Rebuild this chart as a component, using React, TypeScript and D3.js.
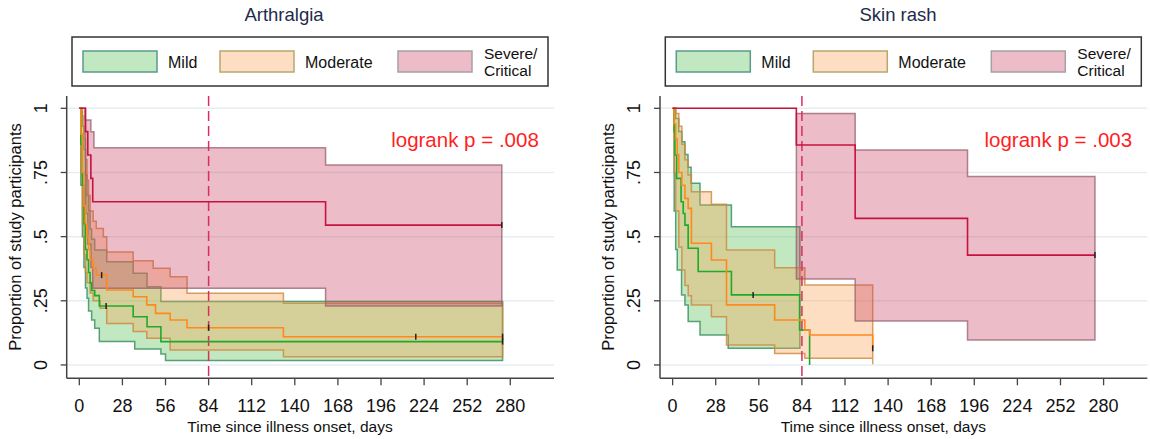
import React from 'react';
import * as d3 from 'd3';

type Pt = [number, number];

// ---- Arthralgia (left panel): [days, proportion] steps ----
const arthMildKm: Pt[] = [[0, 1], [1, 0.86], [2, 0.7], [3, 0.55], [4, 0.45], [5, 0.41], [6, 0.36], [7, 0.32], [8, 0.29], [10, 0.27], [13, 0.23], [35, 0.188], [44, 0.149], [53, 0.091], [275, 0.091]];
const arthMildHi: Pt[] = [[0, 1], [1, 0.99], [2, 0.93], [3, 0.84], [4, 0.74], [5, 0.66], [6, 0.6], [7, 0.53], [8, 0.49], [10, 0.448], [17.8, 0.402], [35, 0.357], [44, 0.305], [53, 0.247], [275, 0.247]];
const arthMildLo: Pt[] = [[0, 1], [1, 0.7], [2, 0.5], [3, 0.38], [4, 0.3], [5, 0.26], [6, 0.21], [8, 0.175], [10, 0.143], [13, 0.091], [36, 0.062], [53, 0.043], [56, 0.017], [275, 0.017]];

const arthModKm: Pt[] = [[0, 1], [1, 0.9], [2, 0.75], [3, 0.62], [4, 0.55], [5, 0.5], [6, 0.45], [7, 0.41], [9, 0.377], [11, 0.35], [17.8, 0.292], [35, 0.266], [43.8, 0.234], [49.5, 0.201], [59, 0.175], [70, 0.145], [132.6, 0.11], [275, 0.11]];
const arthModHi: Pt[] = [[0, 1], [2, 0.97], [3, 0.88], [4, 0.8], [5, 0.72], [6, 0.66], [7, 0.6], [9, 0.56], [11, 0.532], [15.6, 0.5], [17.8, 0.44], [35, 0.406], [48, 0.377], [59, 0.344], [70, 0.279], [132.6, 0.24], [275, 0.24]];
const arthModLo: Pt[] = [[0, 1], [1, 0.75], [2, 0.55], [3, 0.43], [4, 0.36], [5, 0.32], [7, 0.28], [9, 0.25], [13.5, 0.221], [17.8, 0.162], [35, 0.13], [43.8, 0.104], [59, 0.058], [132.6, 0.032], [275, 0.032]];

const arthSevKm: Pt[] = [[0, 1], [4, 0.909], [5.5, 0.818], [7.5, 0.727], [8.7, 0.636], [160, 0.545], [274.5, 0.545]];
const arthSevHi: Pt[] = [[0, 1], [3.7, 0.954], [7.5, 0.909], [9.5, 0.846], [160, 0.779], [274.5, 0.779]];
const arthSevLo: Pt[] = [[0, 1], [4, 0.59], [5.5, 0.47], [7.5, 0.38], [8.7, 0.299], [160, 0.23], [274.5, 0.23]];

const arthCensored: Pt[][] = [
  [[17.4, 0.23], [275, 0.091]],
  [[14.5, 0.35], [84, 0.145], [218.6, 0.11], [275, 0.11]],
  [[274.5, 0.545]],
];

// ---- Skin rash (right panel) ----
const rashMildKm: Pt[] = [[0, 1], [1, 0.909], [1.5, 0.818], [2.6, 0.727], [5.5, 0.636], [6.9, 0.59], [8, 0.545], [10.1, 0.455], [16.6, 0.364], [38.2, 0.273], [82.5, 0.136], [89, 0], [89, 0]];
const rashMildHi: Pt[] = [[0, 1], [2, 0.96], [4, 0.91], [6, 0.87], [8, 0.82], [10, 0.77], [12, 0.708], [17.8, 0.623], [38.2, 0.539], [82.7, 0.539]];
const rashMildLo: Pt[] = [[0, 1], [1, 0.6], [2, 0.45], [3, 0.37], [5.8, 0.273], [8, 0.234], [10.1, 0.169], [17.8, 0.117], [36.1, 0.065], [82.7, 0.065]];

const rashModKm: Pt[] = [[0, 1], [1, 0.94], [2, 0.88], [3, 0.82], [4, 0.75], [6, 0.7], [8, 0.649], [10.1, 0.61], [12.2, 0.474], [25.2, 0.409], [35, 0.234], [66.3, 0.175], [85.9, 0.136], [89.1, 0.117], [130, 0.065], [130, 0.065]];
const rashModHi: Pt[] = [[0, 1], [2, 0.98], [4, 0.93], [6, 0.86], [8, 0.8], [10, 0.74], [12.2, 0.675], [25.2, 0.626], [35, 0.448], [66.3, 0.379], [85.9, 0.312], [130, 0.234]];
const rashModLo: Pt[] = [[0, 1], [1, 0.75], [2, 0.6], [4, 0.46], [6, 0.37], [8, 0.31], [10.1, 0.27], [12.2, 0.234], [25.2, 0.188], [35, 0.078], [66.3, 0.045], [85.9, 0.026], [130, 0.003]];

const rashSevKm: Pt[] = [[0, 1], [80.4, 0.857], [118.6, 0.571], [191.6, 0.428], [274.4, 0.428]];
const rashSevHi: Pt[] = [[80.4, 0.98], [118.6, 0.838], [191.6, 0.734], [274.4, 0.734]];
const rashSevLo: Pt[] = [[80.4, 0.335], [118.6, 0.171], [191.6, 0.097], [274.4, 0.097]];

const rashCensored: Pt[][] = [
  [[52.3, 0.273]],
  [[130, 0.065]],
  [[274.4, 0.428]],
];

const xTicks = [0, 28, 56, 84, 112, 140, 168, 196, 224, 252, 280];
const yTicks = [0, 0.25, 0.5, 0.75, 1];
const yTickLabels = ['0', '.25', '.5', '.75', '1'];
const legendLabels = ['Mild', 'Moderate', 'Severe/\nCritical'];
const landmarkDay = 84;

const FONT = '"Liberation Sans", Arial, Helvetica, sans-serif';

const styles = [
  { line: '#1faa2a', fill: 'rgb(80,190,80)', edge: 'rgba(50,140,90,0.8)', legendEdge: '#5a9a88' },
  { line: '#ff8a1c', fill: 'rgb(250,160,80)', edge: 'rgba(205,135,60,0.8)', legendEdge: '#b8a86c' },
  { line: '#c8123e', fill: 'rgb(200,64,98)', edge: 'rgba(150,95,110,0.75)', legendEdge: '#a8a0a6' },
];

const valueAt = (pts: Pt[], t: number) => {
  let v = pts[0][1];
  for (const p of pts) if (p[0] <= t) v = p[1];
  return v;
};

const mergeBand = (hi: Pt[], lo: Pt[]) => {
  const times = Array.from(new Set([...hi.map((p) => p[0]), ...lo.map((p) => p[0])])).sort((a, b) => a - b);
  return times.map((t) => ({ t, hi: valueAt(hi, t), lo: valueAt(lo, t) }));
};

interface PanelProps {
  dx: number;
  title: string;
  titleX: number;
  pvalue: string;
  km: Pt[][];
  hi: Pt[][];
  lo: Pt[][];
  censored: Pt[][];
}

const Panel: React.FC<PanelProps> = ({ dx, title, titleX, pvalue, km, hi, lo, censored }) => {
  const x = d3.scaleLinear().domain([-8.2, 308.4]).range([66.7 + dx, 554 + dx]);
  const y = d3.scaleLinear().domain([-0.052, 1.048]).range([378.3, 96]);

  const line = d3.line<Pt>().x((d) => x(d[0])).y((d) => y(d[1])).curve(d3.curveStepAfter);
  const area = d3
    .area<{ t: number; hi: number; lo: number }>()
    .x((d) => x(d.t))
    .y0((d) => y(d.lo))
    .y1((d) => y(d.hi))
    .curve(d3.curveStepAfter);

  const [x0, x1] = x.range();
  const [yb, yt] = y.range();

  return (
    <g fontFamily={FONT}>
      <text x={titleX} y={21} textAnchor="middle" fontSize={18.5} fill="#1e2b4c">{title}</text>

      {/* legend */}
      <rect x={72 + dx} y={37} width={476} height={49} fill="#fff" stroke="#333" strokeWidth={1.5} />
      {legendLabels.map((lab, i) => {
        const sx = [83, 220, 398][i] + dx;
        const lines = lab.split('\n');
        return (
          <g key={lab}>
            <rect x={sx} y={51} width={74} height={21} fill={styles[i].fill} fillOpacity={0.35} stroke={styles[i].legendEdge} strokeWidth={1.5} />
            {lines.length === 1 ? (
              <text x={sx + 85} y={68} fontSize={16} fill="#111">{lab}</text>
            ) : (
              lines.map((l, j) => (
                <text key={l} x={sx + 86} y={59 + j * 17} fontSize={15.5} fill="#111">{l}</text>
              ))
            )}
          </g>
        );
      })}

      {/* grid */}
      {yTicks.map((v) => (
        <line key={v} x1={x0} x2={x1} y1={y(v)} y2={y(v)} stroke="#e6eef2" strokeWidth={1.5} />
      ))}

      {/* CI bands */}
      {hi.map((h, i) => (
        <path key={'b' + i} d={area(mergeBand(h, lo[i])) || ''} fill={styles[i].fill} fillOpacity={0.35} stroke={styles[i].edge} strokeWidth={1.5} />
      ))}

      {/* landmark */}
      <line x1={x(landmarkDay)} x2={x(landmarkDay)} y1={yt} y2={yb} stroke="#d92e5e" strokeWidth={1.5} strokeDasharray="10,5" />

      {/* KM curves */}
      {km.map((k, i) => (
        <path key={'k' + i} d={line(k) || ''} fill="none" stroke={styles[i].line} strokeWidth={1.6} />
      ))}

      {censored.map((c, i) =>
        c.map((p, j) => (
          <line key={`c${i}-${j}`} x1={x(p[0])} x2={x(p[0])} y1={y(p[1]) - 3} y2={y(p[1]) + 3} stroke="#222" strokeWidth={1.5} />
        ))
      )}

      <text x={465 + dx} y={147} textAnchor="middle" fontSize={20.5} fill="#ff1f1f">{pvalue}</text>

      {/* axes */}
      <line x1={x0} x2={x0} y1={yt} y2={yb} stroke="#444" strokeWidth={1.5} />
      <line x1={x0} x2={x1} y1={yb} y2={yb} stroke="#444" strokeWidth={1.5} />
      {yTicks.map((v, i) => (
        <g key={'yt' + v}>
          <line x1={x0 - 6} x2={x0} y1={y(v)} y2={y(v)} stroke="#444" strokeWidth={1.3} />
          <text transform={`translate(${47 + dx},${y(v)}) rotate(-90)`} textAnchor="middle" fontSize={18} fill="#111">{yTickLabels[i]}</text>
        </g>
      ))}
      {xTicks.map((v) => (
        <g key={'xt' + v}>
          <line x1={x(v)} x2={x(v)} y1={yb} y2={yb + 7} stroke="#444" strokeWidth={1.3} />
          <text x={x(v)} y={412} textAnchor="middle" fontSize={18} fill="#111">{v}</text>
        </g>
      ))}
      <text transform={`translate(${21 + dx},237) rotate(-90)`} textAnchor="middle" fontSize={16.5} fill="#111">Proportion of study participants</text>
      <text x={290 + dx} y={432} textAnchor="middle" fontSize={15.5} fill="#111">Time since illness onset, days</text>
    </g>
  );
};

export default function App() {
  return (
    <div style={{ position: 'absolute', left: 0, top: 0 }}>
      <svg width={1150} height={439} style={{ display: 'block', background: '#fff' }}>
        <Panel
          dx={0}
          title="Arthralgia"
          titleX={284}
          pvalue="logrank p = .008"
          km={[arthMildKm, arthModKm, arthSevKm]}
          hi={[arthMildHi, arthModHi, arthSevHi]}
          lo={[arthMildLo, arthModLo, arthSevLo]}
          censored={arthCensored}
        />
        <Panel
          dx={593.3}
          title="Skin rash"
          titleX={898}
          pvalue="logrank p = .003"
          km={[rashMildKm, rashModKm, rashSevKm]}
          hi={[rashMildHi, rashModHi, rashSevHi]}
          lo={[rashMildLo, rashModLo, rashSevLo]}
          censored={rashCensored}
        />
      </svg>
    </div>
  );
}
